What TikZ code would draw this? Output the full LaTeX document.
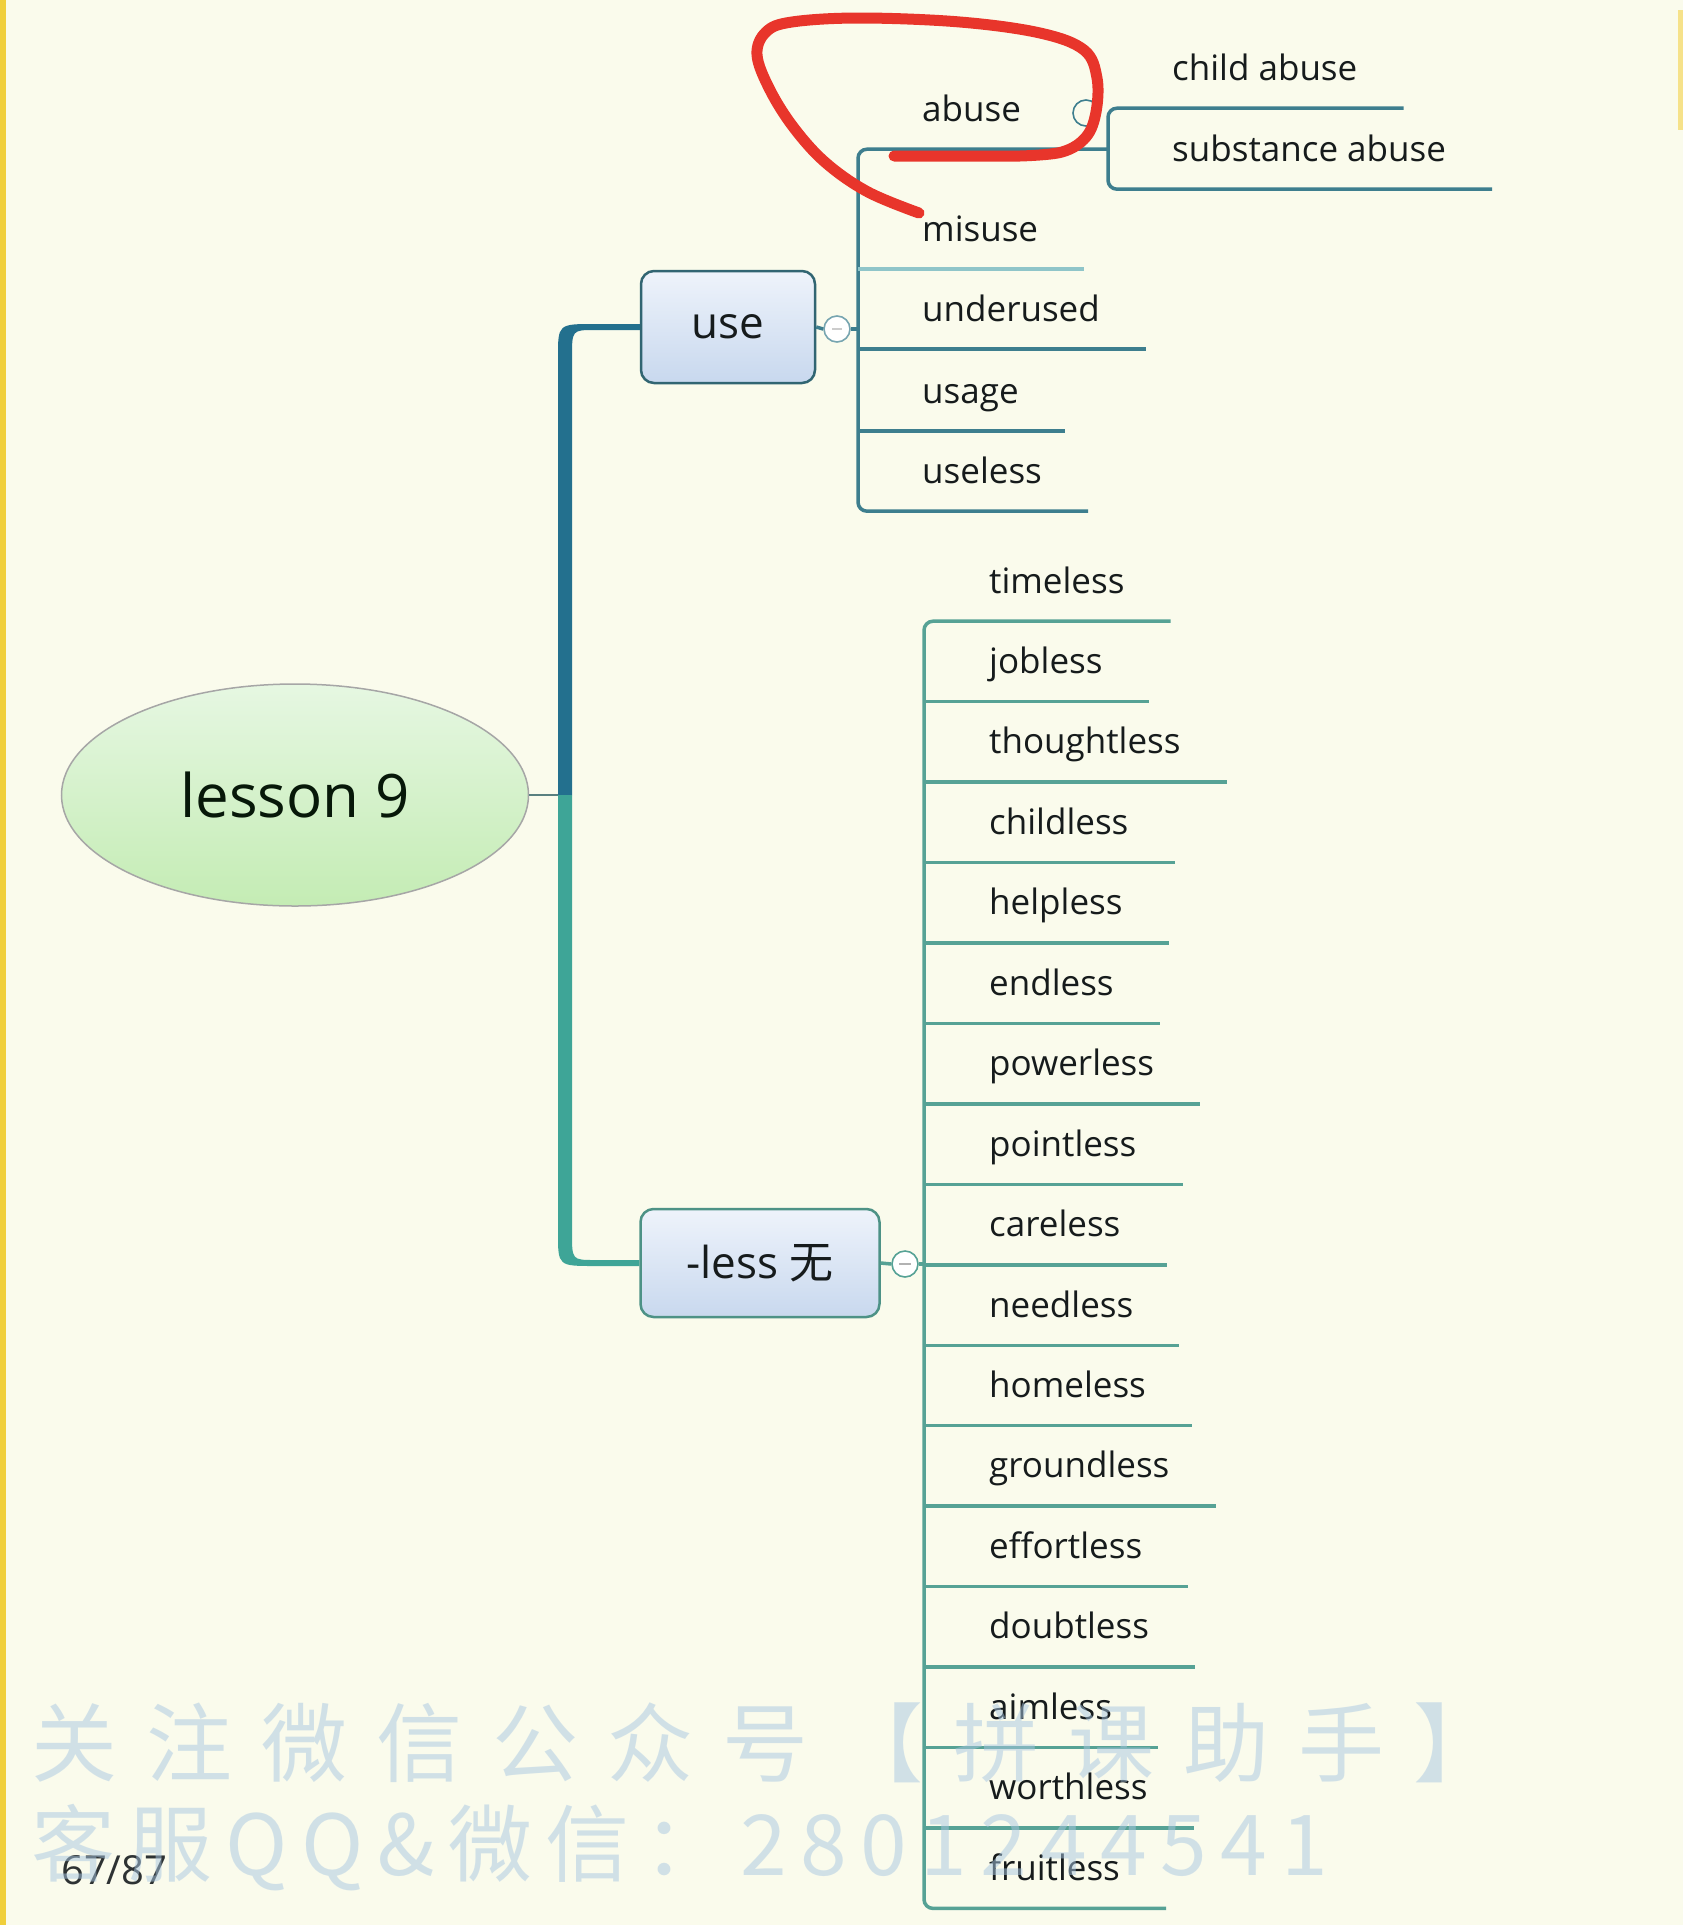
\documentclass[tikz,border=0pt]{standalone}
\usepackage{fontspec}
\setmainfont{Open Sans}
\newfontfamily\cjk{Noto Sans CJK SC}
\usetikzlibrary{shapes.geometric,calc}
\definecolor{bg}{HTML}{FAFBEC}
\definecolor{yel}{HTML}{F0CF3C}
\definecolor{txt}{HTML}{161B1C}
\definecolor{usecol}{HTML}{3D7E8E}
\definecolor{uselight}{HTML}{8FC5C9}
\definecolor{lesscol}{HTML}{56A295}
\definecolor{trunkup}{HTML}{23708E}
\definecolor{trunklow}{HTML}{3EA597}
\definecolor{boxtop}{HTML}{EEF3FB}
\definecolor{boxbot}{HTML}{C8D8EE}
\definecolor{rtop}{HTML}{E6F7E2}
\definecolor{rbot}{HTML}{C4ECB4}
\definecolor{redpen}{HTML}{E8352B}
\definecolor{wmblue}{HTML}{A8C7E2}
\begin{document}
\begin{tikzpicture}[x=1pt,y=-1pt,
  leaf/.style={anchor=west,inner sep=0pt,text height=26pt,text depth=8pt,
    minimum height=74pt,font=\fontsize{35}{40}\selectfont,text=txt},
  mainbox/.style={rectangle,rounded corners=13pt,line width=2.5pt,
    top color=boxtop,bottom color=boxbot,text=txt,
    font=\fontsize{44}{50}\selectfont},
  rootnode/.style={ellipse,minimum width=467pt,minimum height=222pt,
    top color=rtop,bottom color=rbot,draw=gray!70,line width=1.5pt,
    text=txt!85!green!40!black,font=\fontsize{60}{66}\selectfont},
  tog/.style={circle,minimum size=26pt,inner sep=0pt,line width=1.6pt},
  usebr/.style={draw=usecol,line width=3.5pt},
  lessbr/.style={draw=lesscol,line width=3.5pt},
  wm/.style={anchor=west,inner sep=0pt,text=wmblue,text opacity=0.5}]
\useasboundingbox (0,0) rectangle (1683,1925);
\fill[bg] (0,0) rectangle (1683,1925);
\fill[yel] (0,0) rectangle (6,1925);
\fill[yel!60] (1678,10) rectangle (1683,130);

% root and main topics
\node[rootnode] (root) at (295,795) {lesson 9};
\node[mainbox,draw=usecol!80!black,minimum width=174pt,minimum height=112pt] (use) at (728,327) {use};
\node[mainbox,draw=lesscol!90!black,minimum width=239pt,minimum height=108pt] (less) at (760,1263) {-less {\cjk 无}};

\coordinate (tk) at (565,795);
\draw[gray!70!teal,line width=2pt] (root.east) -- (tk);
\fill[trunkup] ($(tk)+(-7,0)$) -- ($(tk |- use.west)+(-7,30)$)
  .. controls ($(tk |- use.west)+(-7,-3)$) .. ($(tk |- use.west)+(30,-3)$)
  -- ($(use.west)+(0,-3)$) -- ($(use.west)+(0,3)$) -- ($(tk |- use.west)+(30,3)$)
  .. controls ($(tk |- use.west)+(7,3)$) .. ($(tk |- use.west)+(7,30)$)
  -- ($(tk)+(7,0)$) -- cycle;
\fill[trunklow] ($(tk)+(-7,0)$) -- ($(tk |- less.west)+(-7,-30)$)
  .. controls ($(tk |- less.west)+(-7,3)$) .. ($(tk |- less.west)+(30,3)$)
  -- ($(less.west)+(0,3)$) -- ($(less.west)+(0,-3)$) -- ($(tk |- less.west)+(30,-3)$)
  .. controls ($(tk |- less.west)+(7,-3)$) .. ($(tk |- less.west)+(7,-30)$)
  -- ($(tk)+(7,0)$) -- cycle;

% use branch
\coordinate (uv) at (858,0);
\coordinate (av) at (1108,0);
\node[leaf] (abuse) at (922,112) {abuse};
\node[leaf] (misuse) at (922,232) {misuse};
\node[leaf] (underused) at (922,312) {underused};
\node[leaf] (usage) at (922,394) {usage};
\node[leaf] (useless) at (922,474) {useless};
\node[leaf] (childab) at (1172,71) {child abuse};
\node[leaf] (substab) at (1172,152) {substance abuse};
\node[tog,draw=usecol!70,fill=white] (uc) at (837,329) {};
\draw[gray!40,line width=1.2pt] ($(uc)+(-5,0)$) -- ($(uc)+(5,0)$);
\draw[usebr] (use.east) -- (uc.west);
\draw[usebr] (uc.east) -- (uv |- uc.east);
\draw[usebr,rounded corners=9pt] (av |- abuse.south) -- (uv |- abuse.south) -- (uv |- useless.south) -- ([xshift=46pt]useless.south east);
\draw[draw=uselight,line width=3.5pt] (uv |- misuse.south) -- ([xshift=46pt]misuse.south east);
\draw[usebr] (uv |- underused.south) -- ([xshift=46pt]underused.south east);
\draw[usebr] (uv |- usage.south) -- ([xshift=46pt]usage.south east);
\draw[usebr,rounded corners=9pt] ([xshift=46pt]childab.south east) -- (av |- childab.south) -- (av |- substab.south) -- ([xshift=46pt]substab.south east);
\node[tog,draw=usecol] (ac) at (1086,113) {};

% -less branch
\coordinate (lv) at (924,0);
\foreach \w [count=\i from 0] in {timeless,jobless,thoughtless,childless,helpless,endless,powerless,pointless,careless,needless,homeless,groundless,effortless,doubtless,aimless,worthless,fruitless}
  \node[leaf] (l\i) at (989,584+80.45*\i) {\w};
\foreach \i in {1,...,15}
  \draw[lessbr] (lv |- l\i.south) -- ([xshift=46pt]l\i.south east);
\draw[lessbr,rounded corners=9pt] ([xshift=46pt]l0.south east) -- (lv |- l0.south) -- (lv |- l16.south) -- ([xshift=46pt]l16.south east);
\node[tog,draw=lesscol,fill=white] (lc) at (905,1264) {};
\draw[gray!60,line width=1.2pt] ($(lc)+(-6,0)$) -- ($(lc)+(6,0)$);
\draw[lessbr] (less.east) -- (lc.west);
\draw[lessbr] (lc.east) -- (lv |- lc.east);

% page number
\node[anchor=west,inner sep=0pt,text=txt!90,font=\fontsize{40}{46}\selectfont] (pg) at (61,1870) {67/87};

% red pen annotation
\draw[redpen,line width=11pt,line cap=round,line join=round]
  plot[smooth,tension=0.6] coordinates {(919,213) (868,192) (826,163) (794,128) (770,90) (757,55) (766,32) (792,22) (860,18) (960,22) (1040,33) (1084,50) (1097,78) (1096,112) (1086,137) (1062,152) (1020,156)}
  -- (894,156);

% watermark
\node[wm,font=\cjk\fontsize{86}{92}\selectfont\addfontfeature{LetterSpace=34}] (wm1) at (31,1743) {关注微信公众号【拼课助手】};
\node[wm,font=\cjk\fontsize{84}{92}\selectfont\addfontfeature{LetterSpace=16}] (wm2) at (31,1848) {客服QQ\&微信：2801244541};
\end{tikzpicture}
\end{document}
